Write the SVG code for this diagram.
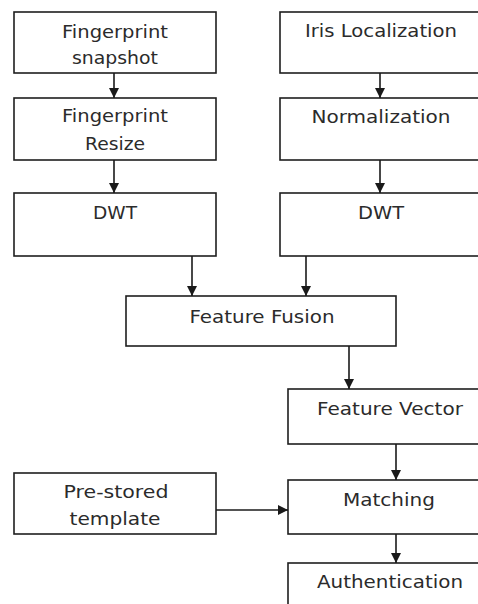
<svg xmlns="http://www.w3.org/2000/svg" width="478" height="604" viewBox="0 0 478 604">
  <style>
    .box { fill: #ffffff; stroke: #1e1e1e; stroke-width: 1.6; }
    .lbl { font-family: "DejaVu Sans", "Liberation Sans", sans-serif; font-size: 17px; fill: #2b2b2b; text-anchor: middle; }
    .wire { stroke: #1a1a1a; stroke-width: 1.6; fill: none; marker-end: url(#head); }
  </style>
  <defs>
    <marker id="head" markerWidth="10" markerHeight="10" refX="10" refY="5" orient="auto" markerUnits="userSpaceOnUse">
      <path d="M0,0 L10,5 L0,10 Z" fill="#1a1a1a"/>
    </marker>
  </defs>
  <rect width="478" height="604" fill="#ffffff"/>

  <!-- fingerprint branch -->
  <g id="fp-snapshot">
    <rect class="box" x="14" y="12" width="202" height="61"/>
    <text class="lbl" x="115" y="38" textLength="106" lengthAdjust="spacingAndGlyphs">Fingerprint</text>
    <text class="lbl" x="115" y="64" textLength="86" lengthAdjust="spacingAndGlyphs">snapshot</text>
  </g>
  <g id="fp-resize">
    <rect class="box" x="14" y="98" width="202" height="62"/>
    <text class="lbl" x="115" y="122" textLength="106" lengthAdjust="spacingAndGlyphs">Fingerprint</text>
    <text class="lbl" x="115" y="150" textLength="60" lengthAdjust="spacingAndGlyphs">Resize</text>
  </g>
  <g id="fp-dwt">
    <rect class="box" x="14" y="193" width="202" height="63"/>
    <text class="lbl" x="115" y="219" textLength="44" lengthAdjust="spacingAndGlyphs">DWT</text>
  </g>

  <!-- iris branch -->
  <g id="iris-loc">
    <rect class="box" x="280" y="12" width="220" height="61"/>
    <text class="lbl" x="381" y="37" textLength="152" lengthAdjust="spacingAndGlyphs">Iris Localization</text>
  </g>
  <g id="iris-norm">
    <rect class="box" x="280" y="98" width="220" height="62"/>
    <text class="lbl" x="381" y="123" textLength="139" lengthAdjust="spacingAndGlyphs">Normalization</text>
  </g>
  <g id="iris-dwt">
    <rect class="box" x="280" y="193" width="220" height="63"/>
    <text class="lbl" x="381" y="219" textLength="46" lengthAdjust="spacingAndGlyphs">DWT</text>
  </g>

  <!-- fusion and matching -->
  <g id="fusion">
    <rect class="box" x="126" y="296" width="270" height="50"/>
    <text class="lbl" x="262" y="323" textLength="145" lengthAdjust="spacingAndGlyphs">Feature Fusion</text>
  </g>
  <g id="vector">
    <rect class="box" x="288" y="389" width="212" height="55"/>
    <text class="lbl" x="390" y="415" textLength="146" lengthAdjust="spacingAndGlyphs">Feature Vector</text>
  </g>
  <g id="template">
    <rect class="box" x="14" y="473" width="202" height="61"/>
    <text class="lbl" x="116" y="498" textLength="105" lengthAdjust="spacingAndGlyphs">Pre-stored</text>
    <text class="lbl" x="115" y="525" textLength="91" lengthAdjust="spacingAndGlyphs">template</text>
  </g>
  <g id="matching">
    <rect class="box" x="288" y="480" width="212" height="54"/>
    <text class="lbl" x="389" y="506" textLength="92" lengthAdjust="spacingAndGlyphs">Matching</text>
  </g>
  <g id="auth">
    <rect class="box" x="288" y="563" width="212" height="60"/>
    <text class="lbl" x="390" y="588" textLength="146" lengthAdjust="spacingAndGlyphs">Authentication</text>
  </g>

  <!-- connectors -->
  <g id="connectors">
    <line class="wire" x1="114" y1="73" x2="114" y2="98"/>
    <line class="wire" x1="114" y1="160" x2="114" y2="193"/>
    <line class="wire" x1="380" y1="73" x2="380" y2="98"/>
    <line class="wire" x1="380" y1="160" x2="380" y2="193"/>
    <line class="wire" x1="192" y1="256" x2="192" y2="296"/>
    <line class="wire" x1="306" y1="256" x2="306" y2="296"/>
    <line class="wire" x1="349" y1="346" x2="349" y2="389"/>
    <line class="wire" x1="396" y1="444" x2="396" y2="480"/>
    <line class="wire" x1="216" y1="510" x2="288" y2="510"/>
    <line class="wire" x1="396" y1="534" x2="396" y2="563"/>
  </g>
</svg>
